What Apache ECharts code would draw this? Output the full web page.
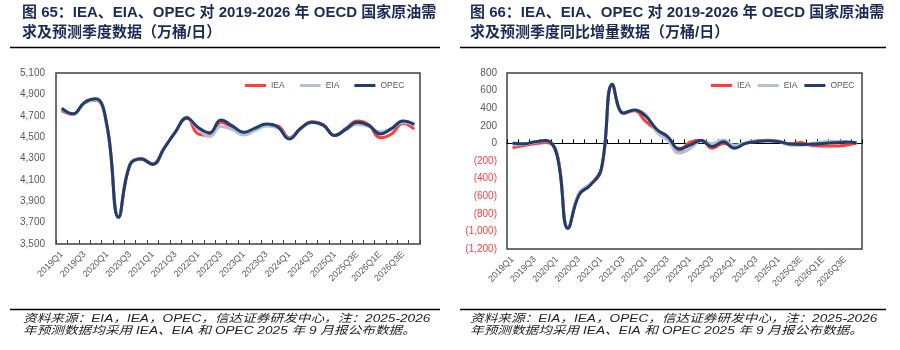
<!DOCTYPE html>
<html><head><meta charset="utf-8">
<script src="https://cdn.jsdelivr.net/npm/echarts@6/dist/echarts.min.js"></script>
<style>html,body{margin:0;padding:0;background:#fff}#c{width:900px;height:350px}</style>
</head><body><div id="c"></div>
<script>
const categories = ['2019Q1','2019Q2','2019Q3','2019Q4','2020Q1','2020Q2','2020Q3','2020Q4',
  '2021Q1','2021Q2','2021Q3','2021Q4','2022Q1','2022Q2','2022Q3','2022Q4',
  '2023Q1','2023Q2','2023Q3','2023Q4','2024Q1','2024Q2','2024Q3','2024Q4',
  '2025Q1','2025Q2','2025Q3E','2025Q4E','2026Q1E','2026Q2E','2026Q3E','2026Q4E'];

// Left chart: OECD demand levels (万桶/日)
const levelIEA  = [4748,4712,4820,4845,4590,3752,4248,4300,4250,4395,4548,4685,4530,4515,4640,4590,4530,4570,4614,4605,4495,4582,4645,4615,4515,4582,4650,4615,4495,4530,4628,4575];
const levelEIA  = [4762,4712,4815,4850,4595,3748,4245,4290,4245,4393,4545,4675,4575,4505,4600,4570,4520,4560,4605,4590,4490,4575,4640,4610,4512,4572,4620,4598,4550,4582,4636,4614];
const levelOPEC = [4770,4718,4825,4858,4600,3750,4240,4295,4245,4395,4550,4680,4590,4540,4660,4605,4545,4585,4622,4595,4482,4580,4640,4612,4515,4575,4640,4610,4530,4580,4650,4620];

// Right chart: YoY change (万桶/日)
const yoyIEA  = [-50,-25,-5,10,-110,-960,-570,-470,-300,665,340,370,250,150,70,-90,15,35,-55,0,-30,0,30,35,25,-5,10,-25,-30,-30,-20,0];
const yoyEIA  = [-20,-10,10,30,-120,-965,-560,-460,-290,668,345,378,330,125,35,-110,-60,30,0,40,-20,5,25,30,20,-20,-20,-5,20,25,15,10];
const yoyOPEC = [5,-5,18,32,-130,-965,-585,-475,-290,672,345,380,310,160,75,-60,-20,32,-36,20,-55,0,20,30,20,-8,-12,-8,0,8,15,8];

const leftTicks = {min:3500, max:5100, interval:200};
const rightTicks = {min:-1200, max:800, interval:200};

const C_IEA = '#FF3B3B', C_EIA = '#B3C0D6', C_OPEC = '#203D6B';
const CJK = '"Liberation Sans","Noto Sans CJK SC",sans-serif';

const chart = echarts.init(document.getElementById('c'), null, {renderer:'canvas'});

function fmt(v){ return Math.abs(v).toLocaleString('en-US'); }

const xLabel = {interval:1, rotate:45, fontSize:9, color:'#595959', margin:9, fontFamily:'"Liberation Sans",sans-serif'};

function lineSeries(name, data, color, xi, yi){
  return {name, type:'line', data, xAxisIndex:xi, yAxisIndex:yi, smooth:0.45,
    showSymbol:false, symbol:'none', lineStyle:{width:3, color}, itemStyle:{color}, z: 2};
}

function legendAt(left, gap){
  return {left, top:81, padding:0, orient:'horizontal', itemWidth:21, itemHeight:3, itemGap:gap, icon:'rect',
    textStyle:{fontSize:8.5, color:'#595959', fontFamily:'"Liberation Sans",sans-serif'},
    data:['IEA','EIA','OPEC'], selectedMode:false};
}

function srcText(x, y, text){
  return {type:'text', x, y, scaleX:1.05, scaleY:0.85,
    style:{text, font:'italic 13px '+CJK, fill:'#222', verticalAlign:'middle'}};
}

const option = {
  animation:false,
  backgroundColor:'#fff',
  grid:[
    {left:56, top:73, width:364, height:171, show:true, borderColor:'#404040', borderWidth:1.5, containLabel:false},
    {left:507, top:73, width:355, height:176, show:true, borderColor:'#404040', borderWidth:1.5, containLabel:false}
  ],
  legend:[ legendAt(245, 15), legendAt(711, 7) ],
  xAxis:[
    {gridIndex:0, type:'category', data:categories, boundaryGap:true, position:'bottom',
      axisLine:{show:false}, axisTick:{show:true, inside:true, length:4, interval:0, lineStyle:{color:'#404040'}},
      axisLabel:xLabel, splitLine:{show:false}},
    {gridIndex:1, type:'category', data:categories, boundaryGap:true, position:'bottom',
      axisLine:{show:true, onZero:true, lineStyle:{color:'#000', width:1}},
      axisTick:{show:true, inside:true, length:4, interval:0, lineStyle:{color:'#000'}},
      axisLabel:{show:false}, splitLine:{show:false}},
    {gridIndex:1, type:'category', data:categories, boundaryGap:true, position:'bottom',
      axisLine:{show:false, onZero:false}, axisTick:{show:false},
      axisLabel:xLabel, splitLine:{show:false}}
  ],
  yAxis:[
    {gridIndex:0, type:'value', min:leftTicks.min, max:leftTicks.max, interval:leftTicks.interval,
      axisLine:{show:false}, axisTick:{show:false}, splitLine:{show:false},
      axisLabel:{formatter:v=>fmt(v), fontSize:10, color:'#595959', margin:11, fontFamily:'"Liberation Sans",sans-serif'}},
    {gridIndex:1, type:'value', min:rightTicks.min, max:rightTicks.max, interval:rightTicks.interval,
      axisLine:{show:false}, axisTick:{show:false}, splitLine:{show:false},
      axisLabel:{formatter:v=> v<0 ? '{n|('+fmt(v)+')}' : '{p|'+fmt(v)+'}', margin:10,
        rich:{n:{color:'#FF3B3B', fontSize:10, fontFamily:'"Liberation Sans",sans-serif'},
              p:{color:'#595959', fontSize:10, fontFamily:'"Liberation Sans",sans-serif'}}}}
  ],
  series:[
    lineSeries('IEA', levelIEA, C_IEA, 0, 0),
    lineSeries('EIA', levelEIA, C_EIA, 0, 0),
    lineSeries('OPEC', levelOPEC, C_OPEC, 0, 0),
    lineSeries('IEA', yoyIEA, C_IEA, 1, 1),
    lineSeries('EIA', yoyEIA, C_EIA, 1, 1),
    lineSeries('OPEC', yoyOPEC, C_OPEC, 1, 1)
  ],
  graphic:[
    {type:'text', x:22, y:13, style:{text:'图 65：IEA、EIA、OPEC 对 2019-2026 年 OECD 国家原油需', font:'bold 15px '+CJK, fill:'#1b2a57', verticalAlign:'middle'}},
    {type:'text', x:22, y:33, style:{text:'求及预测季度数据（万桶/日）', font:'bold 15px '+CJK, fill:'#1b2a57', verticalAlign:'middle'}},
    {type:'text', x:470, y:13, style:{text:'图 66：IEA、EIA、OPEC 对 2019-2026 年 OECD 国家原油需', font:'bold 15px '+CJK, fill:'#1b2a57', verticalAlign:'middle'}},
    {type:'text', x:470, y:33, style:{text:'求及预测季度同比增量数据（万桶/日）', font:'bold 15px '+CJK, fill:'#1b2a57', verticalAlign:'middle'}},
    {type:'line', shape:{x1:10, y1:47.5, x2:440, y2:47.5}, style:{stroke:'#000', lineWidth:1.5}},
    {type:'line', shape:{x1:460, y1:47.5, x2:886, y2:47.5}, style:{stroke:'#000', lineWidth:1.5}},
    {type:'line', shape:{x1:10, y1:309.5, x2:440, y2:309.5}, style:{stroke:'#000', lineWidth:1.5}},
    {type:'line', shape:{x1:460, y1:309.5, x2:886, y2:309.5}, style:{stroke:'#000', lineWidth:1.5}},
    srcText(23, 319, '资料来源：EIA，IEA，OPEC，信达证券研发中心，注：2025-2026'),
    srcText(23, 330.5, '年预测数据均采用 IEA、EIA 和 OPEC 2025 年 9 月报公布数据。'),
    srcText(470, 319, '资料来源：EIA，IEA，OPEC，信达证券研发中心，注：2025-2026'),
    srcText(470, 330.5, '年预测数据均采用 IEA、EIA 和 OPEC 2025 年 9 月报公布数据。')
  ]
};
chart.setOption(option);
</script>
</body></html>
